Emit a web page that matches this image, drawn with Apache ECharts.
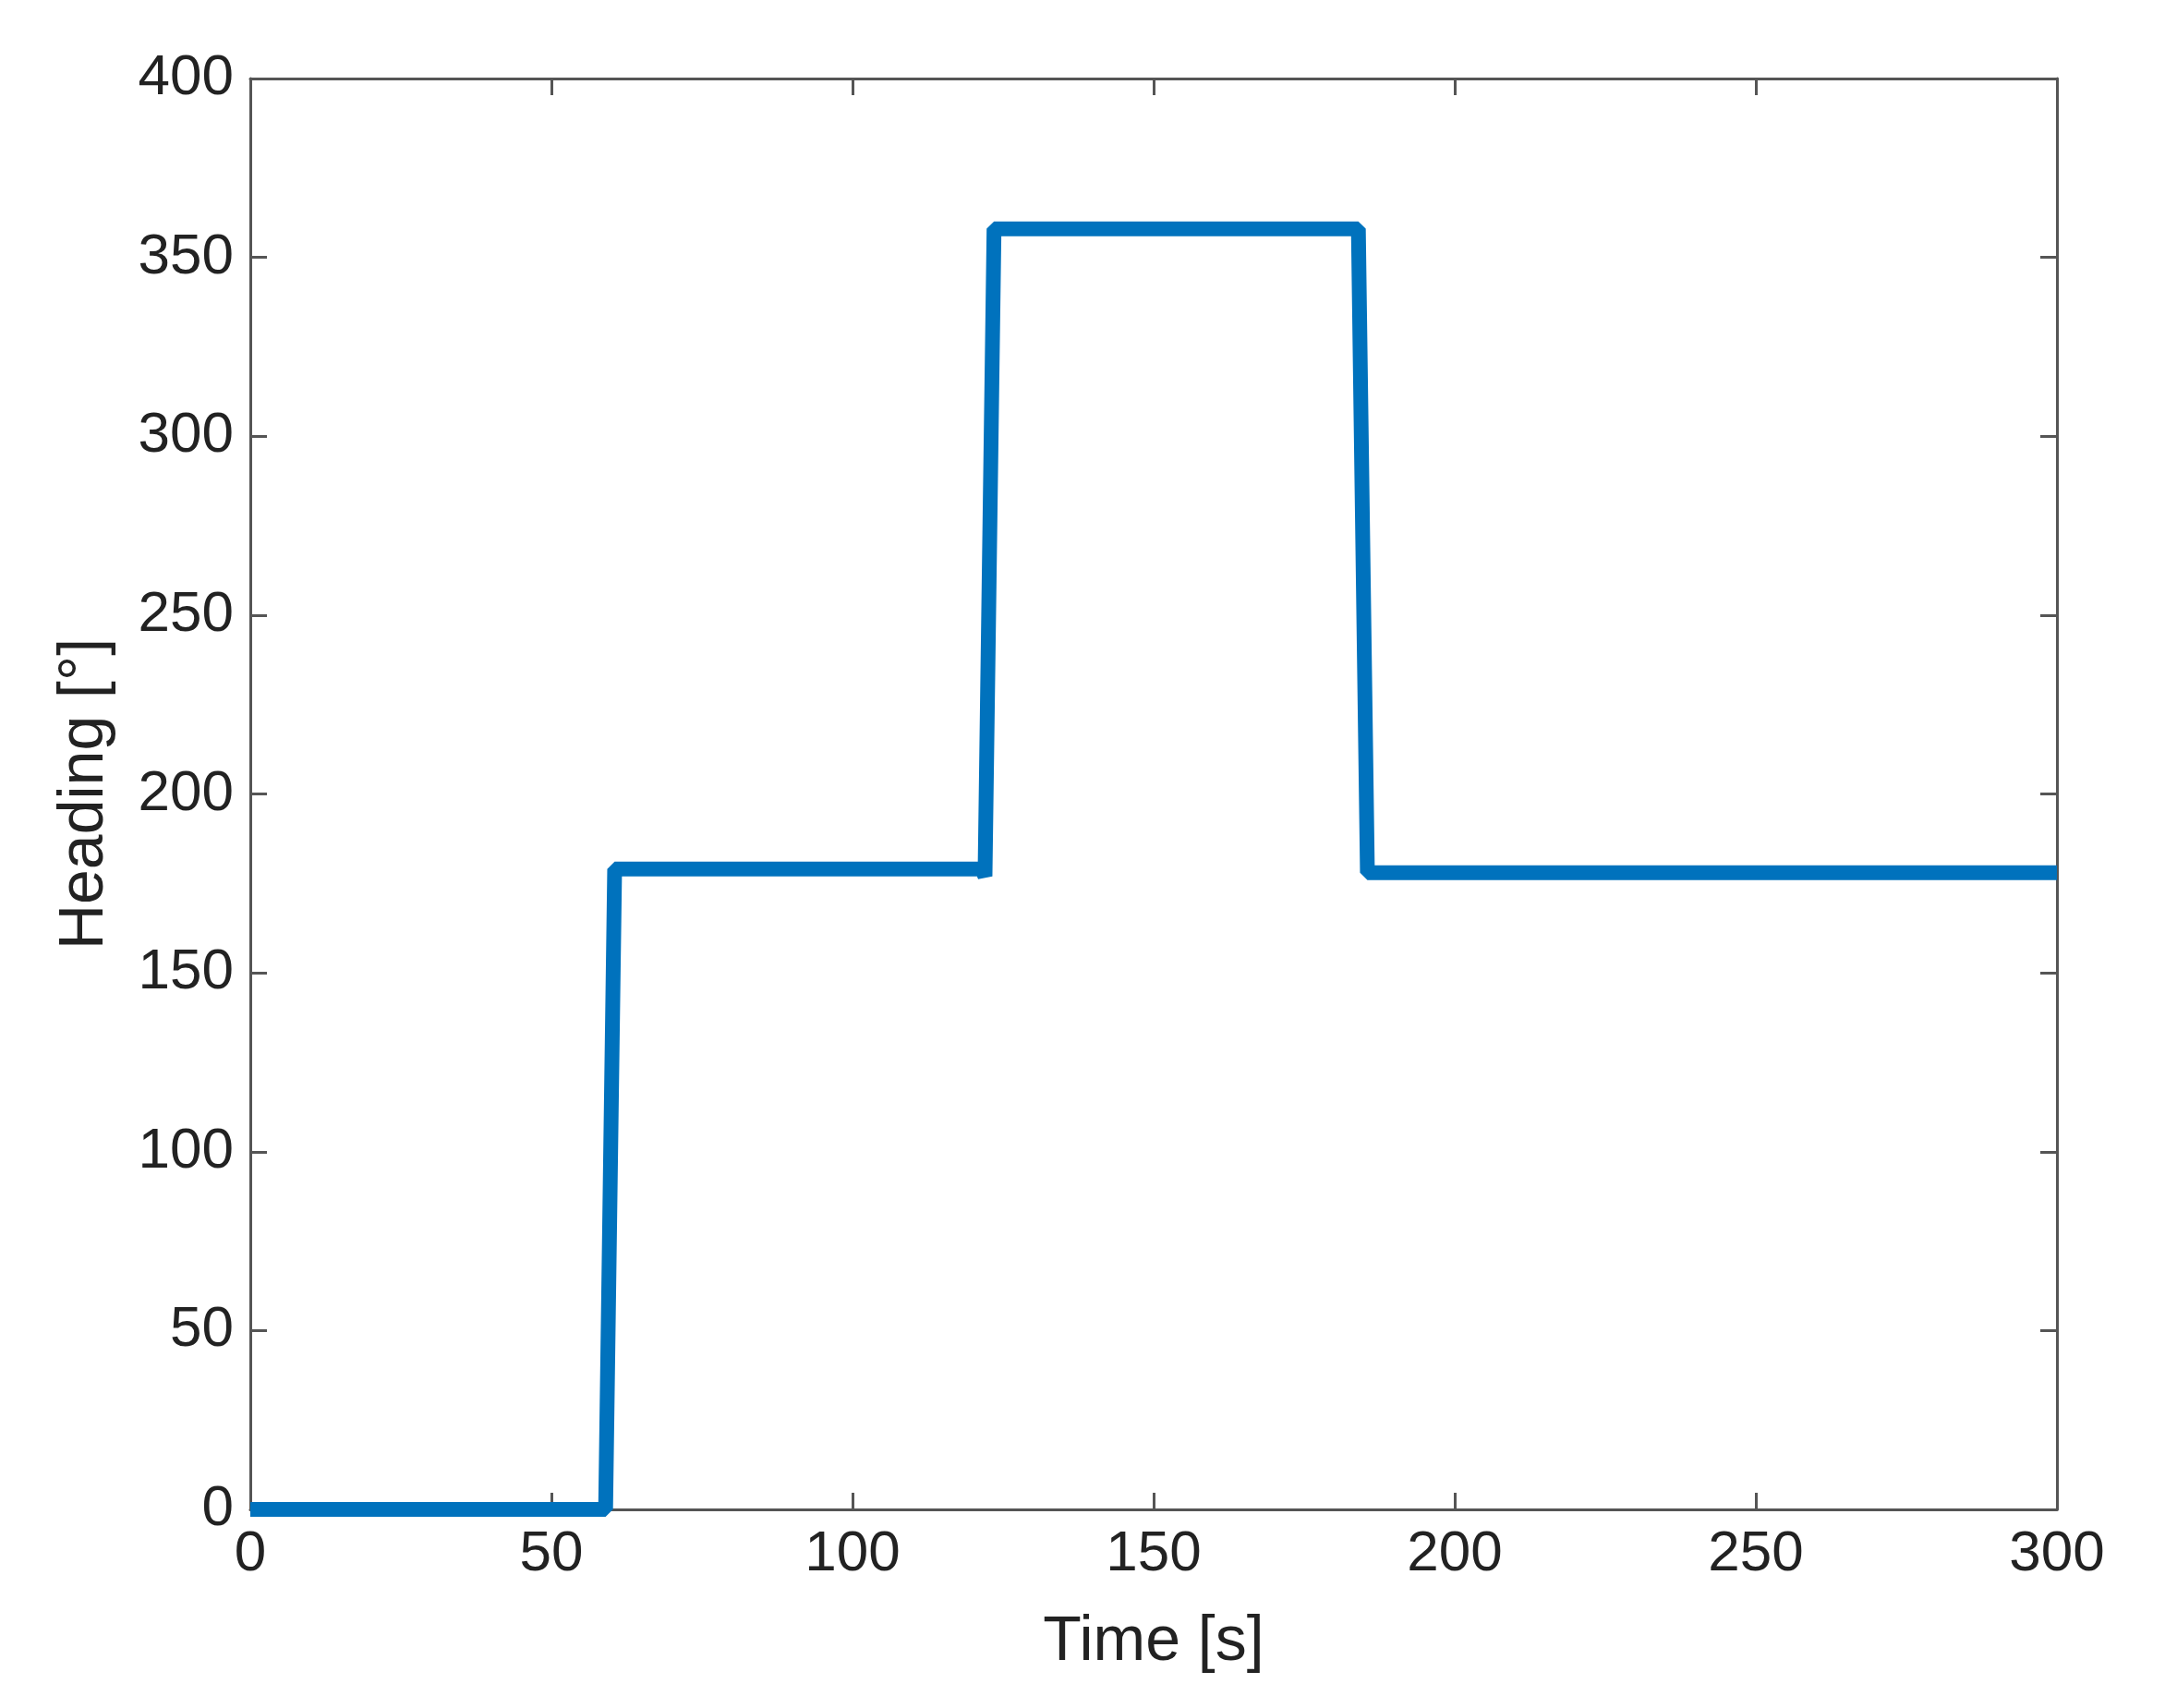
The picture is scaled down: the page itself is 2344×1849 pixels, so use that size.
<!DOCTYPE html>
<html>
<head>
<meta charset="utf-8">
<script src="https://cdn.jsdelivr.net/npm/echarts@6/dist/echarts.min.js"></script>
<style>
  * { margin: 0; padding: 0 }
  html, body { background: #fff; }
  #chart { width: 2344px; height: 1849px; }
</style>
</head>
<body>
<div id="chart"></div>
<script>
    // heading vs time
    var timeS = [0, 59, 60.5, 121.5, 122, 123.5, 184, 185.5, 300];
    var headingDeg = [0, 0, 179, 179, 177, 358, 358, 178, 178];
    var xTicks = [0, 50, 100, 150, 200, 250, 300];
    var yTicks = [0, 50, 100, 150, 200, 250, 300, 350, 400];

    var pts = [];
    for (var i = 0; i < timeS.length; i++) {
        pts.push([timeS[i], headingDeg[i]]);
    }

    var axisCol = '#555';
    var font = 'Liberation Sans, Arial, sans-serif';

    function axisCommon(showLabel) {
        return {
            axisLine: { show: true, onZero: false, lineStyle: { color: axisCol, width: 3 } },
            axisTick: { show: true, inside: true, length: 18, lineStyle: { color: axisCol, width: 3 } },
            splitLine: { show: false },
            axisLabel: { show: showLabel, color: '#222', fontSize: 62, fontFamily: font, margin: 18 }
        };
    }

    var chart = echarts.init(document.getElementById('chart'));
    chart.setOption({
        animation: false,
        grid: { left: 271, right: 117, top: 85, bottom: 215 },
        xAxis: [
            Object.assign({ type: 'value', min: xTicks[0], max: xTicks[xTicks.length - 1], interval: 50, position: 'bottom',
                name: 'Time [s]', nameLocation: 'middle', nameGap: 110,
                nameTextStyle: { color: '#222', fontSize: 68, fontFamily: font } }, axisCommon(true)),
            Object.assign({ type: 'value', min: 0, max: 300, interval: 50, position: 'top' }, axisCommon(false))
        ],
        yAxis: [
            Object.assign({ type: 'value', min: yTicks[0], max: yTicks[yTicks.length - 1], interval: 50, position: 'left',
                name: 'Heading [°]', nameLocation: 'middle', nameGap: 145,
                nameTextStyle: { color: '#222', fontSize: 68, fontFamily: font } }, axisCommon(true)),
            Object.assign({ type: 'value', min: 0, max: 400, interval: 50, position: 'right' }, axisCommon(false))
        ],
        series: [{
            type: 'line',
            data: pts,
            symbol: 'none',
            lineStyle: { color: '#0072BD', width: 16 }
        }]
    });
</script>
</body>
</html>
